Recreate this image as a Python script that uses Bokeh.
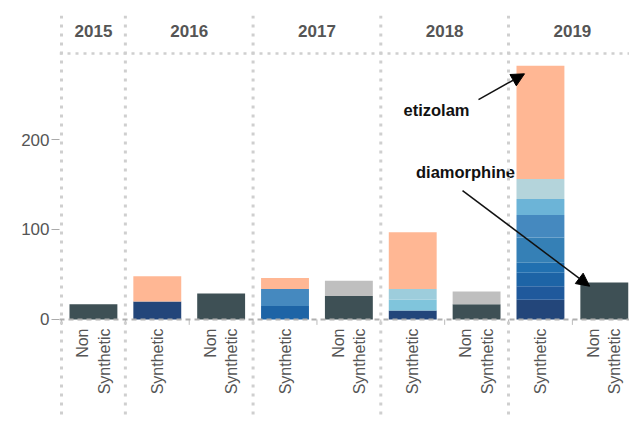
import numpy as np
from bokeh.plotting import figure
from bokeh.models import Range1d, FixedTicker, Span, Arrow, NormalHead, ColumnDataSource
from bokeh.core.properties import value
from bokeh.embed import file_html
from bokeh.resources import INLINE

# ---------------- data ----------------
years = ["2015", "2016", "2016", "2017", "2017", "2018", "2018", "2019", "2019"]
kinds = ["Non\nSynthetic", "Synthetic", "Non\nSynthetic", "Synthetic", "Non\nSynthetic",
         "Synthetic", "Non\nSynthetic", "Synthetic", "Non\nSynthetic"]

# stack layers (bottom to top)
diamorphine         = [17, 0, 29, 0, 26, 0, 17, 0, 41]
other_non_synthetic = [0, 0, 0, 0, 17, 0, 14, 0, 0]
synthetic_1         = [0, 20, 0, 0, 0, 10, 0, 22, 0]
synthetic_2         = [0, 0, 0, 0, 0, 0, 0, 15, 0]
synthetic_3         = [0, 0, 0, 15, 0, 0, 0, 15, 0]
synthetic_4         = [0, 0, 0, 0, 0, 0, 0, 11, 0]
synthetic_5         = [0, 0, 0, 0, 0, 0, 0, 28, 0]
synthetic_6         = [0, 0, 0, 19, 0, 0, 0, 25, 0]
synthetic_7         = [0, 0, 0, 0, 0, 0, 0, 18, 0]
synthetic_8         = [0, 0, 0, 0, 0, 0, 0, 22, 0]
synthetic_9         = [0, 0, 0, 0, 0, 12, 0, 0, 0]
synthetic_10        = [0, 0, 0, 0, 0, 12, 0, 0, 0]
etizolam            = [0, 28, 0, 12, 0, 63, 0, 126, 0]

y_ticks = [0, 100, 200]

layers = {
    "diamorphine": diamorphine,
    "other_non_synthetic": other_non_synthetic,
    "synthetic_1": synthetic_1,
    "synthetic_2": synthetic_2,
    "synthetic_3": synthetic_3,
    "synthetic_4": synthetic_4,
    "synthetic_5": synthetic_5,
    "synthetic_6": synthetic_6,
    "synthetic_7": synthetic_7,
    "synthetic_8": synthetic_8,
    "synthetic_9": synthetic_9,
    "synthetic_10": synthetic_10,
    "etizolam": etizolam,
}
layer_colors = {
    "diamorphine": "#3e5055",
    "other_non_synthetic": "#bfbfbf",
    "synthetic_1": "#23467a",
    "synthetic_2": "#1f599c",
    "synthetic_3": "#1d64a6",
    "synthetic_4": "#2170b0",
    "synthetic_5": "#3580b6",
    "synthetic_6": "#4589bf",
    "synthetic_7": "#6cb4d7",
    "synthetic_8": "#b4d4db",
    "synthetic_9": "#80c5dc",
    "synthetic_10": "#9dcddc",
    "etizolam": "#ffb794",
}

# ---------------- layout constants ----------------
FONT = "Liberation Sans"
GRID_COLOR = "#cfcfcf"
TEXT_COLOR = "#555555"
n = len(years)
x_centers = [i + 0.5 for i in range(n)]
totals = [sum(layers[k][i] for k in layers) for i in range(n)]

p = figure(width=629, height=418, output_backend="svg", toolbar_location=None,
           x_range=Range1d(-2 / 63.86, (629 - 61) / 63.86),
           y_range=Range1d(-107.8, 337.8),
           min_border_left=59, min_border_right=0, min_border_top=15, min_border_bottom=2)
p.xaxis.visible = False
p.xgrid.visible = False
p.ygrid.visible = False
p.outline_line_color = None
p.background_fill_color = "white"
p.border_fill_color = "white"

yax = p.yaxis[0]
yax.ticker = FixedTicker(ticks=y_ticks)
yax.axis_line_color = None
yax.major_tick_in = 0
yax.major_tick_out = 8
yax.major_tick_line_color = "#aaaaaa"
yax.minor_tick_line_color = None
yax.major_label_text_font = FONT
yax.major_label_text_font_size = "17px"
yax.major_label_text_color = TEXT_COLOR
yax.major_label_standoff = 2

# year boundaries and header
boundaries = [i for i in range(n) if i == 0 or years[i] != years[i - 1]]
for b in boundaries:
    p.add_layout(Span(location=b, dimension="height", line_color=GRID_COLOR,
                      line_width=3, line_dash="3 6"))
p.add_layout(Span(location=295.6, dimension="width", line_color=GRID_COLOR,
                  line_width=2.5, line_dash="3 5"))

# bars
source = ColumnDataSource(dict(x=x_centers, **layers))
names = list(layers.keys())
p.vbar_stack(names, x="x", width=0.75, source=source,
             fill_color=[layer_colors[k] for k in names], line_color=None)

# baseline
p.add_layout(Span(location=0, dimension="width", line_color="#b0b0b0",
                  line_width=2, line_dash="5 4"))
# small ticks at category boundaries
p.segment(x0=list(range(n)), y0=[0] * n, x1=list(range(n)), y1=[-6] * n,
          line_color="#bbbbbb", line_width=1)

# category labels
p.text(x=x_centers, y=[-10] * n, text=kinds, angle=np.pi / 2,
       text_align="right", text_baseline="middle",
       text_font=value(FONT), text_font_size="16px", text_color=TEXT_COLOR,
       text_line_height=1.25)

# year header labels
year_list = []
year_x = []
for y in years:
    if y not in year_list:
        year_list.append(y)
for y in year_list:
    idx = [i for i, yy in enumerate(years) if yy == y]
    year_x.append((min(idx) + max(idx) + 1) / 2)
p.text(x=year_x, y=[321] * len(year_x), text=year_list,
       text_align="center", text_baseline="middle",
       text_font=value(FONT), text_font_size="17px", text_font_style="bold",
       text_color=TEXT_COLOR)

# annotations
i_et = 7
i_dm = 8
p.text(x=[5.872, 6.326], y=[233, 163.7], text=["etizolam", "diamorphine"],
       text_align="center", text_baseline="middle",
       text_font=value(FONT), text_font_size="16.5px", text_font_style="bold",
       text_color="#111111")
p.add_layout(Arrow(end=NormalHead(size=13, fill_color="black", line_color="black"),
                   x_start=6.53, y_start=244.4, x_end=i_et + 0.25, y_end=totals[i_et] - 9,
                   line_color="#111111", line_width=1.5))
p.add_layout(Arrow(end=NormalHead(size=13, fill_color="black", line_color="black"),
                   x_start=6.28, y_start=143.3, x_end=i_dm + 0.27, y_end=totals[i_dm] - 4,
                   line_color="#111111", line_width=1.5))

open("out.html", "w").write(file_html(p, INLINE))
